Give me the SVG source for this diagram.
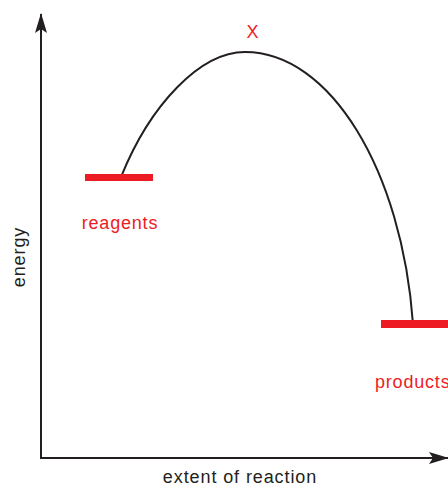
<svg xmlns="http://www.w3.org/2000/svg" width="448" height="487" viewBox="0 0 448 487">
<style>
.lbl{font-family:"Liberation Sans",Arial,sans-serif;font-size:18px;letter-spacing:0.8px;fill:#ed1c24}
.ax{font-family:"Liberation Sans",Arial,sans-serif;font-size:18px;letter-spacing:0.9px;fill:#231f20}
.bar{fill:#ed1c24}
</style>
<defs>
<marker id="ah" markerWidth="20" markerHeight="12" refX="19" refY="6" orient="auto" markerUnits="userSpaceOnUse">
<path d="M0,0 L20,6 L0,12 L4,6 Z" fill="#231f20"/>
</marker>
</defs>
<rect width="448" height="487" fill="#fff"/>
<g id="axes" stroke="#231f20" stroke-width="2" fill="none">
<line x1="41" y1="458" x2="41" y2="14" marker-end="url(#ah)"/>
<line x1="40" y1="458" x2="448" y2="458" marker-end="url(#ah)"/>
</g>
<g id="connectors">
<path d="M121,177 C150,105 200,52 245,52 C330,52 402,170 413,324" fill="none" stroke="#231f20" stroke-width="2"/>
</g>
<g id="reagents">
<rect class="bar" x="85" y="174" width="68" height="7"/>
<text class="lbl" x="120" y="229" text-anchor="middle">reagents</text>
</g>
<g id="products">
<rect class="bar" x="381" y="320" width="67" height="8"/>
<text class="lbl" x="375" y="388">products</text>
</g>
<g id="transition">
<text class="lbl" x="253" y="38" text-anchor="middle">X</text>
</g>
<text class="ax" x="240" y="483" text-anchor="middle">extent of reaction</text>
<text class="ax" transform="translate(25,257) rotate(-90)" text-anchor="middle">energy</text>
</svg>
